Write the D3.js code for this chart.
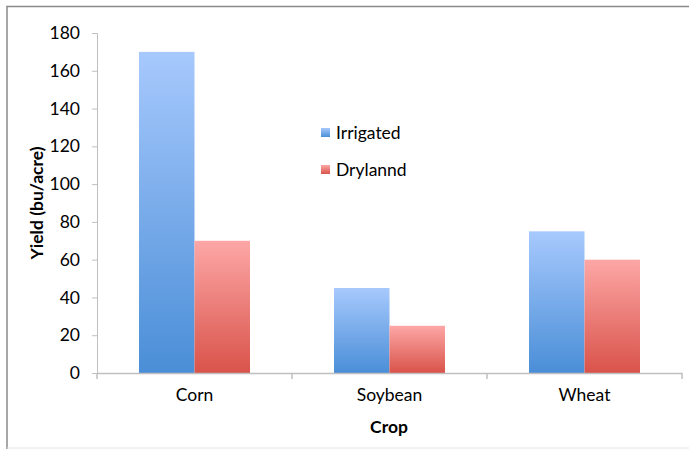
<!DOCTYPE html>
<html><head><meta charset="utf-8">
<script src="https://cdn.jsdelivr.net/npm/d3@7"></script>
<style>body{margin:0;background:#fff}svg{display:block}text{font-family:Lato,"Open Sans",sans-serif;fill:#000}</style>
</head><body>
<svg id="c" width="689" height="449"></svg>
<script>
const categories = ["Corn", "Soybean", "Wheat"];
const seriesNames = ["Irrigated", "Drylannd"];
const irrigated = [170, 45, 75];
const dryland = [70, 25, 60];
const yTicks = [0, 20, 40, 60, 80, 100, 120, 140, 160, 180];

const svg = d3.select("#c");
const m = {l: 97, r: 682, t: 33, b: 373};
const FS = 17.5;

// frame
svg.append("rect").attr("x", 7).attr("y", 6.5).attr("width", 700).attr("height", 460)
  .attr("fill", "none").attr("stroke", "#8a8a8a").attr("stroke-width", 1.5);
svg.append("line").attr("x1", 7).attr("x2", 689).attr("y1", 448).attr("y2", 448).attr("stroke", "#e4e4e4");

const defs = svg.append("defs");
const grads = [["gBlue", "#a7c9fd", "#4a8ed7"], ["gRed", "#fda7a6", "#d9534a"]];
grads.forEach(([id, top, bot]) => {
  const g = defs.append("linearGradient").attr("id", id).attr("x1", 0).attr("x2", 0).attr("y1", 0).attr("y2", 1);
  g.append("stop").attr("offset", "0%").attr("stop-color", top);
  g.append("stop").attr("offset", "100%").attr("stop-color", bot);
});

const x = d3.scaleBand().domain(categories).range([m.l, m.r]).paddingInner(0).paddingOuter(0);
const y = d3.scaleLinear().domain([0, 180]).range([m.b, m.t]);
const xs = d3.scaleBand().domain(seriesNames).range([0, x.bandwidth()]).paddingInner(0).paddingOuter(0.757);

const data = categories.map((c, i) => ({c, vals: [irrigated[i], dryland[i]]}));
const groups = svg.append("g").selectAll("g").data(data).join("g")
  .attr("transform", d => `translate(${x(d.c)},0)`);
groups.selectAll("rect").data(d => d.vals.map((v, j) => ({v, s: seriesNames[j], j}))).join("rect")
  .attr("x", d => xs(d.s)).attr("width", xs.bandwidth())
  .attr("y", d => y(d.v)).attr("height", d => y(0) - y(d.v))
  .attr("fill", d => d.j === 0 ? "url(#gBlue)" : "url(#gRed)");

// y axis
const ya = svg.append("g").attr("transform", `translate(${m.l},0)`)
  .call(d3.axisLeft(y).tickValues(yTicks).tickSize(5).tickPadding(12));
ya.select(".domain").attr("stroke", "#bfbfbf");
ya.selectAll(".tick line").attr("stroke", "#bfbfbf");
ya.selectAll(".tick text").attr("font-size", FS).style("font-family", "Lato,'Open Sans',sans-serif");

// x axis
const xa = svg.append("g").attr("transform", `translate(0,${m.b})`)
  .call(d3.axisBottom(x).tickSize(0).tickPadding(16));
xa.select(".domain").attr("stroke", "#bfbfbf").attr("stroke-width", 1.5);
xa.selectAll(".tick text").attr("font-size", FS).style("font-family", "Lato,'Open Sans',sans-serif");
const bounds = [m.l, ...categories.map(c => x(c) + x.bandwidth())];
svg.append("g").selectAll("line").data(bounds).join("line")
  .attr("x1", d => d).attr("x2", d => d).attr("y1", m.b).attr("y2", m.b + 6)
  .attr("stroke", "#bfbfbf").attr("stroke-width", 1.5);

// axis titles
svg.append("text").attr("transform", `translate(43,${(m.t + m.b) / 2}) rotate(-90)`)
  .attr("text-anchor", "middle").attr("font-size", FS).attr("font-weight", "bold").text("Yield (bu/acre)");
svg.append("text").attr("x", 389).attr("y", 433).attr("text-anchor", "middle")
  .attr("font-size", FS).attr("font-weight", "bold").text("Crop");

// legend
const lg = svg.append("g").selectAll("g").data(seriesNames).join("g")
  .attr("transform", (d, i) => `translate(321,${128 + i * 37})`);
lg.append("rect").attr("width", 9).attr("height", 9).attr("fill", (d, i) => i === 0 ? "url(#gBlue)" : "url(#gRed)");
lg.append("text").attr("x", 15).attr("y", 11).attr("font-size", FS).text(d => d);
</script>
</body></html>
